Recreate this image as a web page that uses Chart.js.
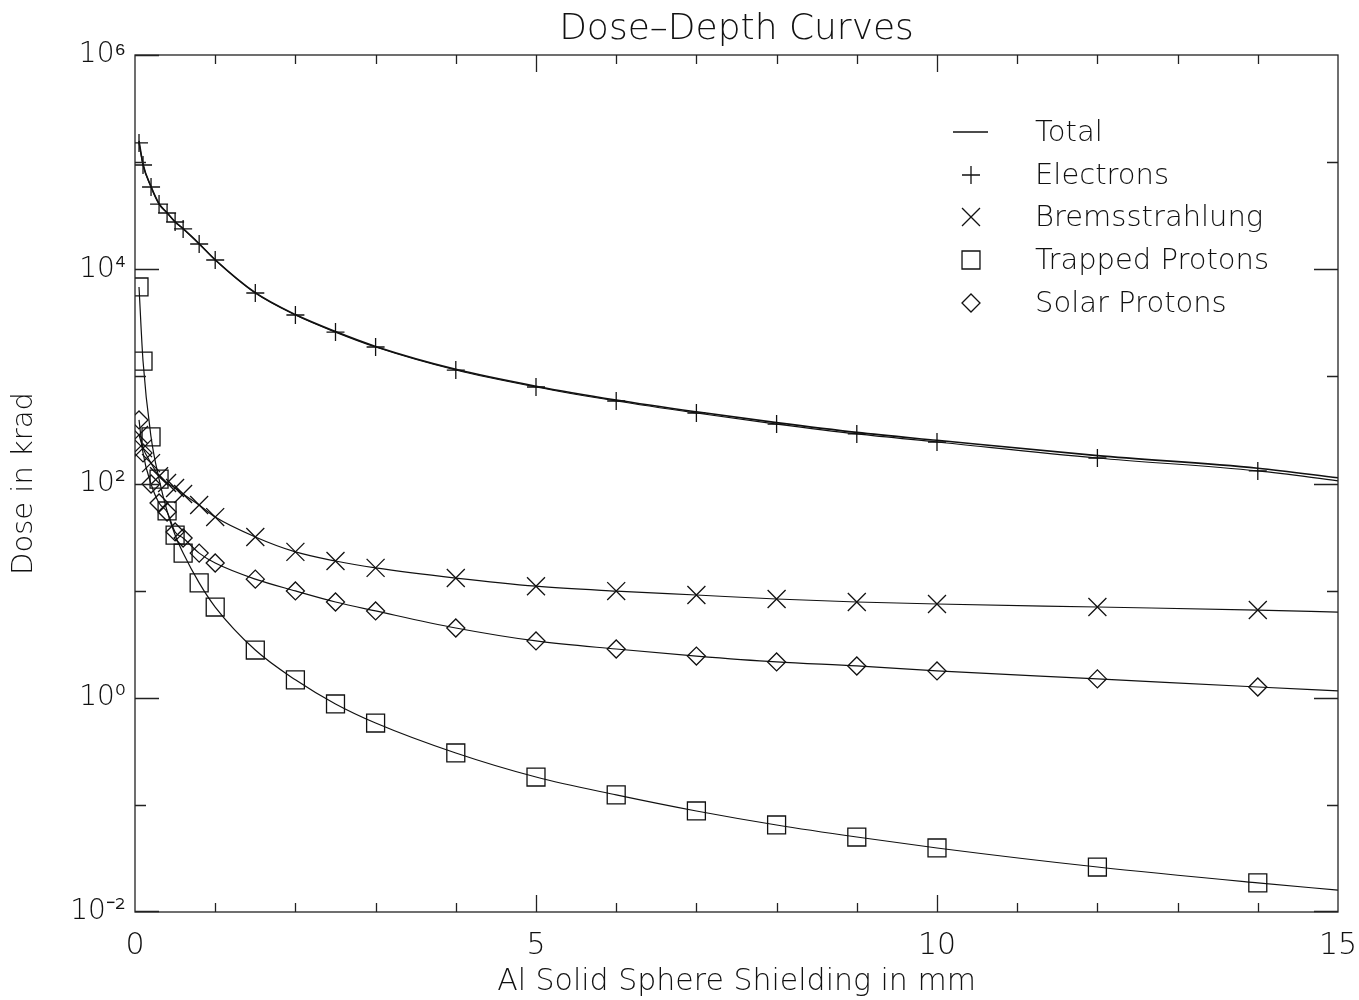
<!DOCTYPE html>
<html>
<head>
<meta charset="utf-8">
<title>Dose-Depth Curves</title>
<script src="https://cdn.jsdelivr.net/npm/chart.js@4.4.1/dist/chart.umd.min.js"></script>
<style>
  html, body { margin: 0; padding: 0; background: #fff; }
  #wrap { width: 1359px; height: 1000px; }
</style>
</head>
<body>
<div id="wrap"><canvas id="doseChart" width="1359" height="1000"></canvas></div>
<script>
// -------- Data --------
const depthMm = [0.05, 0.1, 0.2, 0.3, 0.4, 0.5, 0.6, 0.8, 1, 1.5, 2, 2.5, 3, 4, 5, 6, 7, 8, 9, 10, 12, 14, 15];

const totalDose = [158000, 95800, 59100, 40900, 33700, 27700, 23900, 17300, 12260, 6050, 3775, 2618, 1903, 1164, 810, 602, 467, 370, 300, 253, 182, 139, 113];
const electronDose = [151000, 94000, 58600, 40600, 33500, 27600, 23800, 17200, 12200, 6000, 3740, 2590, 1880, 1146, 796, 589, 455, 359, 290, 244, 173, 131, 106];
const bremsDose = [284, 214, 155, 117, 101, 90.8, 79.8, 63.0, 48.6, 31.7, 23.0, 18.9, 16.3, 13.1, 11.0, 9.9, 9.1, 8.35, 7.83, 7.50, 7.03, 6.59, 6.31];
const trappedDose = [6830, 1390, 272, 110, 55.4, 33.0, 22.4, 11.8, 7.03, 2.79, 1.47, 0.875, 0.581, 0.305, 0.182, 0.124, 0.0877, 0.0649, 0.0501, 0.0396, 0.0263, 0.0187, 0.016];
const solarDose = [392, 193, 98.9, 65.8, 54.2, 35.3, 31.0, 22.4, 18.1, 12.8, 9.93, 7.83, 6.46, 4.48, 3.39, 2.85, 2.45, 2.16, 1.98, 1.78, 1.50, 1.26, 1.16];

const chartTitle = 'Dose–Depth Curves';
const seriesLabels = ['Total', 'Electrons', 'Bremsstrahlung', 'Trapped Protons', 'Solar Protons'];
const xTickValues = [0, 5, 10, 15];
const yDecades = [-2, -1, 0, 1, 2, 3, 4, 5, 6];
const superDigits = { '-': '⁻', '0': '⁰', '1': '¹', '2': '²', '3': '³', '4': '⁴', '5': '⁵', '6': '⁶', '7': '⁷', '8': '⁸', '9': '⁹' };

// -------- Utils --------
const INK = '#111';
const FONT = '"DejaVu Sans ExtraLight", "DejaVu Sans", sans-serif';

function toPoints(values) { return depthMm.map((x, i) => ({ x, y: values[i] })); }
function sup(n) { return String(n).split('').map(c => superDigits[c]).join(''); }
// markers stop at 14 mm, the curve runs on to 15
function markerRadius(r) { return ctx => (ctx.raw && ctx.raw.x >= 15 ? 0 : r); }

function series(label, values, style, radius, width) {
  return {
    label,
    data: toPoints(values),
    showLine: true,
    borderColor: INK,
    backgroundColor: 'rgba(0,0,0,0)',
    borderWidth: width,
    pointStyle: style,
    pointRadius: style ? markerRadius(radius) : 0,
    pointHoverRadius: 0,
    pointBorderColor: INK,
    pointBorderWidth: 1.3,
    cubicInterpolationMode: 'monotone',
    _legendRadius: radius,
  };
}

// -------- Plugins --------
// box frame with inward ticks on all four sides, title centred over the plot
const framePlugin = {
  id: 'frame',
  afterDatasetsDraw(chart) {
    const { ctx, chartArea: a, scales } = chart;
    const xs = scales.x, ys = scales.y;
    ctx.save();
    ctx.strokeStyle = '#222';
    ctx.lineWidth = 1.3;
    ctx.strokeRect(a.left, a.top, a.right - a.left, a.bottom - a.top);
    ctx.beginPath();
    for (let v = 1; v < 15; v++) {
      const px = Math.round(xs.getPixelForValue(v)) + 0.5;
      const len = v % 5 === 0 ? 17 : 9;
      ctx.moveTo(px, a.bottom); ctx.lineTo(px, a.bottom - len);
      ctx.moveTo(px, a.top); ctx.lineTo(px, a.top + len);
    }
    yDecades.forEach(e => {
      if (e === -2 || e === 6) return;
      const py = Math.round(ys.getPixelForValue(Math.pow(10, e))) + 0.5;
      const len = e % 2 === 0 ? 24 : 11;
      ctx.moveTo(a.left, py); ctx.lineTo(a.left + len, py);
      ctx.moveTo(a.right, py); ctx.lineTo(a.right - len, py);
    });
    // major stubs at corners
    ctx.moveTo(a.left, a.top + 0.5); ctx.lineTo(a.left + 24, a.top + 0.5);
    ctx.moveTo(a.left, a.bottom - 0.5); ctx.lineTo(a.left + 24, a.bottom - 0.5);
    ctx.moveTo(a.right, a.bottom - 0.5); ctx.lineTo(a.right - 24, a.bottom - 0.5);
    ctx.stroke();

    ctx.font = `200 36px ${FONT}`;
    ctx.fillStyle = INK;
    ctx.textAlign = 'center';
    ctx.textBaseline = 'middle';
    ctx.fillText(chartTitle, (a.left + a.right) / 2, 30);
    ctx.restore();
  }
};

const legendPlugin = {
  id: 'insideLegend',
  afterDraw(chart) {
    const { ctx } = chart;
    const symX = 971, textX = 1035, rows = [132, 175, 217, 260, 303];
    ctx.save();
    chart.data.datasets.forEach((ds, i) => {
      const y = rows[i];
      ctx.strokeStyle = INK;
      ctx.lineWidth = 1.3;
      if (!ds.pointStyle) {
        ctx.beginPath(); ctx.moveTo(953, y); ctx.lineTo(988, y); ctx.stroke();
      } else {
        ctx.fillStyle = 'rgba(0,0,0,0)';
        Chart.helpers.drawPoint(ctx, {
          pointStyle: ds.pointStyle, radius: ds._legendRadius, rotation: 0, borderWidth: 1.3
        }, symX, y);
      }
      ctx.font = `200 29px ${FONT}`;
      ctx.fillStyle = INK;
      ctx.textBaseline = 'middle';
      ctx.fillText(ds.label, textX, y + 1);
    });
    ctx.restore();
  }
};

// -------- Chart --------
function buildChart() {
  return new Chart(document.getElementById('doseChart'), {
    type: 'scatter',
    data: {
      datasets: [
        series(seriesLabels[0], totalDose, false, 0, 1.6),
        series(seriesLabels[1], electronDose, 'cross', 9, 1.2),
        series(seriesLabels[2], bremsDose, 'crossRot', 12.7, 1.2),
        series(seriesLabels[3], trappedDose, 'rect', 12.7, 1.2),
        series(seriesLabels[4], solarDose, 'rectRot', 9, 1.2),
      ]
    },
    options: {
      responsive: false,
      animation: false,
      devicePixelRatio: 1,
      layout: { padding: { right: 21, left: 0, top: 55, bottom: 0 } },
      plugins: {
        legend: { display: false },
        tooltip: { enabled: false },
        title: { display: false }
      },
      scales: {
        x: {
          type: 'linear',
          min: 0,
          max: 15,
          afterFit: s => { s.height = 88; s.paddingLeft = 0; s.paddingRight = 0; },
          afterBuildTicks: s => { s.ticks = xTickValues.map(v => ({ value: v })); },
          grid: { display: false, drawTicks: false },
          border: { display: false },
          ticks: {
            color: INK,
            padding: 16,
            autoSkip: false,
            maxRotation: 0,
            font: { family: FONT, size: 30, weight: '200' },
            callback: v => String(v)
          },
          title: {
            display: true,
            text: 'Al Solid Sphere Shielding in mm',
            color: INK,
            font: { family: FONT, size: 30, weight: '200', lineHeight: 1 },
            padding: { top: 0, bottom: 3 }
          }
        },
        y: {
          type: 'logarithmic',
          min: 0.01,
          max: 1e6,
          afterFit: s => { s.width = 135; s.paddingTop = 0; s.paddingBottom = 0; },
          afterBuildTicks: s => { s.ticks = yDecades.map(e => ({ value: Math.pow(10, e) })); },
          grid: { display: false, drawTicks: false },
          border: { display: false },
          ticks: {
            color: INK,
            padding: 9,
            autoSkip: false,
            font: { family: FONT, size: 28, weight: '200' },
            callback: v => {
              const e = Math.round(Math.log10(v));
              return e % 2 === 0 ? '10' + sup(e) : '';
            }
          },
          title: {
            display: true,
            text: 'Dose in krad',
            color: INK,
            font: { family: FONT, size: 29, weight: '200', lineHeight: 1 },
            padding: { top: 10, bottom: 0 }
          }
        }
      }
    },
    plugins: [framePlugin, legendPlugin]
  });
}

// -------- Bootstrap --------
window.addEventListener('DOMContentLoaded', () => {
  buildChart();
});
</script>
</body>
</html>
